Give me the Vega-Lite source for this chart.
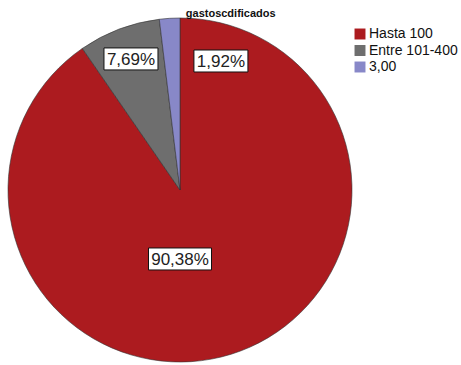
{
  "$schema": "https://vega.github.io/schema/vega-lite/v6.json",
  "width": 344,
  "height": 344,
  "autosize": {"type": "none"},
  "padding": {"left": 8, "top": 18, "right": 109, "bottom": 3},
  "background": "white",
  "title": {"text": "gastoscdificados", "anchor": "start", "dx": 179, "offset": -2, "fontSize": 11, "fontWeight": "bold", "font": "Liberation Sans", "color": "#111"},
  "config": {"view": {"stroke": null}},
  "data": {"values": [
    {"cat": "Hasta 100", "idx": 1, "pct": 90.38, "label": "90,38%", "lx": 0.0, "ly": -0.401},
    {"cat": "Entre 101-400", "idx": 2, "pct": 7.69, "label": "7,69%", "lx": -0.285, "ly": 0.762},
    {"cat": "3,00", "idx": 3, "pct": 1.92, "label": "1,92%", "lx": 0.238, "ly": 0.75}
  ]},
  "layer": [
    {
      "mark": {"type": "arc", "stroke": "#333", "strokeWidth": 0.6},
      "encoding": {
        "theta": {"field": "pct", "type": "quantitative", "stack": true},
        "order": {"field": "idx", "type": "quantitative"},
        "color": {
          "field": "cat", "type": "nominal",
          "scale": {"domain": ["Hasta 100", "Entre 101-400", "3,00"], "range": ["#AC1B1F", "#6E6E6E", "#8888C8"]},
          "legend": {
            "title": null, "orient": "none", "legendX": 345, "legendY": 9,
            "symbolType": "square", "symbolSize": 120, "symbolStrokeWidth": 0,
            "labelFont": "Liberation Sans", "labelFontSize": 14, "labelColor": "#111",
            "labelOffset": 2, "rowPadding": 2.5
          }
        }
      }
    },
    {
      "mark": {"type": "point", "filled": true, "fill": "white", "stroke": "#111", "strokeWidth": 1, "opacity": 1},
      "encoding": {
        "x": {"field": "lx", "type": "quantitative", "scale": {"domain": [-1, 1], "nice": false, "zero": false}, "axis": null},
        "y": {"field": "ly", "type": "quantitative", "scale": {"domain": [-1, 1], "nice": false, "zero": false}, "axis": null},
        "shape": {"condition": {"test": "length(datum.label) > 5", "value": "M-1,-0.349H1V0.349H-1Z"}, "value": "M-1,-0.407H1V0.407H-1Z"},
        "size": {"condition": {"test": "length(datum.label) > 5", "value": 3969}, "value": 2916}
      }
    },
    {
      "mark": {"type": "text", "font": "Liberation Sans", "fontSize": 17, "color": "#222", "baseline": "middle", "align": "center", "dy": 1},
      "encoding": {
        "x": {"field": "lx", "type": "quantitative"},
        "y": {"field": "ly", "type": "quantitative"},
        "text": {"field": "label"}
      }
    }
  ]
}
